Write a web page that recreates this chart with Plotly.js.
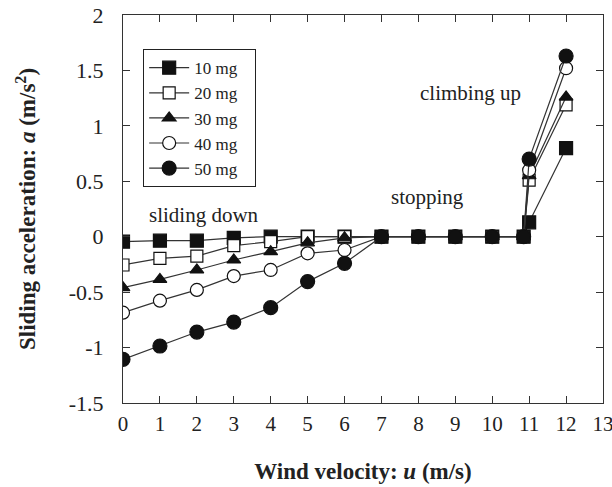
<!DOCTYPE html>
<html>
<head>
<meta charset="utf-8">
<script src="https://cdn.plot.ly/plotly-3.0.1.min.js"></script>
<style>html,body{margin:0;padding:0;background:#fff;}#chart{width:612px;height:487px;}</style>
</head>
<body>
<div id="chart"></div>
<script>
// Wind velocity (m/s)
const xVals = [0, 1, 2, 3, 4, 5, 6, 7, 8, 9, 10, 10.85, 11, 12];
const seriesNames = ['10 mg', '20 mg', '30 mg', '40 mg', '50 mg'];
// Sliding acceleration (m/s^2)
const a10 = [-0.045, -0.036, -0.036, -0.01, 0, 0, 0, 0, 0, 0, 0, 0, 0.13, 0.80];
const a20 = [-0.255, -0.195, -0.175, -0.08, -0.045, 0, 0, 0, 0, 0, 0, 0, 0.51, 1.19];
const a30 = [-0.46, -0.385, -0.30, -0.21, -0.135, -0.055, -0.01, 0, 0, 0, 0, 0, 0.55, 1.26];
const a40 = [-0.685, -0.577, -0.48, -0.355, -0.30, -0.15, -0.12, 0, 0, 0, 0, 0, 0.60, 1.52];
const a50 = [-1.106, -0.986, -0.86, -0.77, -0.64, -0.405, -0.24, 0, 0, 0, 0, 0, 0.70, 1.63];
const xTicks = [0,1,2,3,4,5,6,7,8,9,10,11,12,13];
const yTicks = [-1.5,-1,-0.5,0,0.5,1,1.5,2];
const yTickText = ['-1.5','-1','-0.5','0','0.5','1','1.5','2'];

const allY = [a10, a20, a30, a40, a50];
const symbols = ['square', 'square-open', 'triangle-up', 'circle-open', 'circle'];
const sizes = [13, 12, 12, 13, 14];

const traces = allY.map((ys, i) => {
  const open = symbols[i].indexOf('open') >= 0;
  return {
    x: xVals, y: ys, name: seriesNames[i] + '\u00a0\u00a0\u00a0', type: 'scatter', mode: 'lines+markers',
    line: {color: '#333', width: 1.2},
    marker: {
      symbol: open ? symbols[i].replace('-open','') : symbols[i],
      size: sizes[i],
      color: open ? '#fff' : '#111',
      line: {color: '#111', width: 1.2}
    }
  };
});

const serif = 'Liberation Serif, Times New Roman, serif';
const layout = {
  width: 612, height: 487,
  margin: {l: 123, r: 9, t: 15, b: 84},
  paper_bgcolor: '#fff', plot_bgcolor: '#fff',
  font: {family: serif, color: '#222', size: 18},
  showlegend: true,
  legend: {
    x: 0.042, y: 0.912, xanchor: 'left', yanchor: 'top',
    bordercolor: '#222', borderwidth: 1, bgcolor: '#fff',
    font: {family: serif, size: 17, color: '#222'},
    tracegroupgap: 0, itemwidth: 40
  },
  xaxis: {
    range: [0, 13], tickvals: xTicks, ticktext: xTicks.map(String),
    ticks: 'inside', ticklen: 7, tickwidth: 1, tickcolor: '#333',
    showline: true, linecolor: '#333', linewidth: 1, mirror: 'ticks',
    showgrid: false, zeroline: false, ticklabelstandoff: 2, ticklabeloverflow: 'allow',
    tickfont: {family: serif, size: 21, color: '#222'},
    title: {text: '<b>Wind velocity: <i>u</i> (m/s)</b>', font: {family: serif, size: 23, color: '#222'}, standoff: 27}
  },
  yaxis: {
    range: [-1.5, 2], tickvals: yTicks, ticktext: yTickText,
    ticks: 'inside', ticklen: 7, tickwidth: 1, tickcolor: '#333',
    showline: true, linecolor: '#333', linewidth: 1, mirror: 'ticks',
    showgrid: false, zeroline: false, ticklabelstandoff: 14,
    tickfont: {family: serif, size: 22, color: '#222'},
    title: {text: '<b>Sliding acceleration: <i>a</i> (m/s<sup>2</sup>)</b>', font: {family: serif, size: 23, color: '#222'}, standoff: 26}
  },
  annotations: [
    {x: 2.2, y: 0.2, xref: 'x', yref: 'y', text: 'sliding down', showarrow: false, font: {family: serif, size: 21, color: '#222'}},
    {x: 8.25, y: 0.36, xref: 'x', yref: 'y', text: 'stopping', showarrow: false, font: {family: serif, size: 21, color: '#222'}},
    {x: 9.4, y: 1.3, xref: 'x', yref: 'y', text: 'climbing up', showarrow: false, font: {family: serif, size: 21, color: '#222'}}
  ]
};

Plotly.newPlot('chart', traces, layout, {displayModeBar: false, staticPlot: true});
</script>
</body>
</html>
